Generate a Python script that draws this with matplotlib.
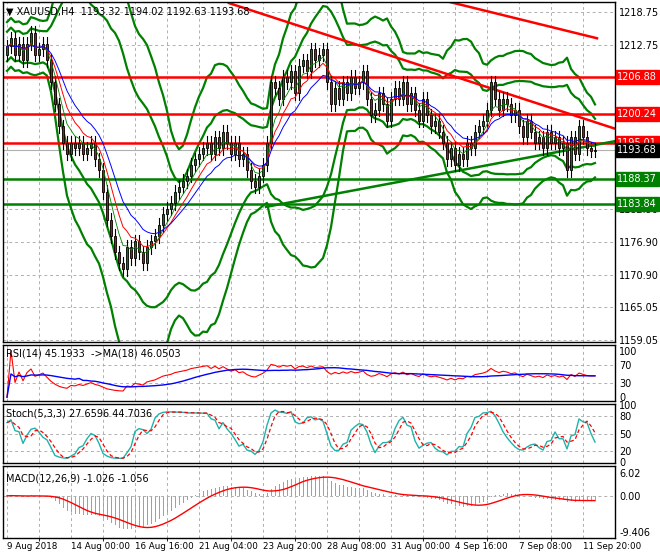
import numpy as np
import matplotlib
matplotlib.use("Agg")
import matplotlib.pyplot as plt

closes = [1212.5,1214,1211,1213,1210,1213,1215,1211,1212,1213,
          1210,1206,1202,1198,1195,1193,1195,1194,1195,1193,
          1194,1195,1192,1190,1186,1181,1178,1175,1173,1172,
          1176,1174,1177,1175,1173,1176,1177,1178,1180,1182,
          1183,1184,1186,1187,1188,1189,1191,1192,1193,1194,
          1195,1193,1196,1194,1197,1195,1193,1195,1192,1193,
          1190,1188,1187,1189,1191,1195,1206,1205,1203,1207,
          1206,1208,1204,1209,1210,1208,1212,1210,1211,1212,
          1206,1202,1205,1203,1206,1204,1207,1205,1206,1208,
          1203,1200,1201,1204,1202,1199,1203,1205,1203,1206,
          1202,1204,1201,1199,1203,1200,1198,1199,1197,1195,
          1192,1194,1191,1193,1192,1195,1194,1197,1198,1199,
          1201,1206,1203,1201,1203,1202,1200,1201,1198,1196,
          1199,1197,1195,1196,1194,1197,1195,1196,1194,1195,
          1190,1196,1193,1198,1196,1194,1193.5,1193.68]
first_open = 1211.0
red_levels = [1206.88, 1200.24, 1195.01]
green_levels = [1188.37, 1183.84]
last_price = 1193.68
price_ticks = [1218.75, 1212.75, 1182.90, 1176.90, 1170.90, 1165.05, 1159.05]
red_trend = ([55.5, 153], [1220.4, 1197.3])
red_trend2 = ([109, 147.5], [1220.9, 1214.0])
green_trend = ([64.75, 153], [1183.3, 1195.4])
xlabels = ["9 Aug 2018", "14 Aug 00:00", "16 Aug 16:00", "21 Aug 04:00", "23 Aug 20:00",
           "28 Aug 08:00", "31 Aug 00:00", "4 Sep 16:00", "7 Sep 08:00", "11 Sep 20:00"]
xlabel_bars = [0, 16, 32, 48, 64, 80, 96, 112, 128, 144]
title = "XAUUSD,H4  1193.32 1194.02 1192.63 1193.68"
rsi_text = "RSI(14) 45.1933  ->MA(18) 46.0503"
stoch_text = "Stoch(5,3,3) 27.6596 44.7036"
macd_text = "MACD(12,26,9) -1.026 -1.056"

c = np.array(closes, float)
n = len(c)
o = np.concatenate([[first_open], c[:-1]])
hi = np.maximum(o, c) + 1.2
lo = np.minimum(o, c) - 1.2
x = np.arange(n)

def ema(a, p):
    out = np.empty_like(a); k = 2/(p+1); out[0] = a[0]
    for i in range(1, len(a)): out[i] = a[i]*k + out[i-1]*(1-k)
    return out
def sma(a, p):
    return np.array([a[max(0, i-p+1):i+1].mean() for i in range(len(a))])
def std(a, p):
    return np.array([a[max(0, i-p+1):i+1].std() for i in range(len(a))])

mid = sma(c, 20); sd = std(c, 20)
sd[:5] = sd[5]
d = np.diff(c, prepend=c[0])
g = np.where(d > 0, d, 0); l = np.where(d < 0, -d, 0)
ag = ema(g, 27); al = ema(l, 27)
rsi = 100 - 100/(1 + ag/np.maximum(al, 1e-9))
rsi_ma = sma(rsi, 18)
hh = np.array([hi[max(0, i-4):i+1].max() for i in range(n)])
ll = np.array([lo[max(0, i-4):i+1].min() for i in range(n)])
k = 100*sma(c-ll, 3)/np.maximum(sma(hh-ll, 3), 1e-9)
dline = sma(k, 3)
macd = ema(c, 12) - ema(c, 26)
sig = sma(macd, 9)

W, H = 660, 560
fig = plt.figure(figsize=(6.6, 5.6), dpi=100)
L, R = 3/W, 615/W
def axes(top, bot):
    return fig.add_axes([L, 1-bot/H, R-L, (bot-top)/H])
ax = axes(2, 342); ar = axes(345, 401); ast = axes(404, 463); am = axes(466, 538)
FS = 7
GRID = dict(color="#b0b0b0", ls=(0, (3, 3)), lw=0.7)
for a in (ax, ar, ast, am):
    a.set_xlim(-1, 152)
    a.set_xticks(list(range(0, 152, 8)))
    a.grid(True, **GRID)
    a.tick_params(length=0, labelbottom=False, labelleft=False, labelright=True, labelsize=FS, pad=3)
    a.yaxis.tick_right()
    for s in a.spines.values(): s.set_color("black"); s.set_linewidth(1)

ax.set_ylim(1158.7, 1220.6)
ax.set_yticks(price_ticks)
ax.set_yticklabels([f"{t:.2f}" for t in price_ticks])
for i in range(n):
    ax.plot([x[i], x[i]], [lo[i], hi[i]], color="black", lw=0.8, zorder=3)
    col = "#008000" if c[i] >= o[i] else "#e00000"
    b0, b1 = min(o[i], c[i]), max(o[i], c[i])
    ax.bar(x[i], max(b1-b0, 0.15), bottom=b0, width=0.72, color=col, edgecolor="black", lw=0.6, zorder=4)
ax.plot(x, ema(c, 5), color="#008000", lw=0.6, zorder=5)
ax.plot(x, ema(c, 8), color="red", lw=0.7, zorder=5)
ax.plot(x, ema(c, 13), color="blue", lw=0.7, zorder=5)
for dev in (2.0, 3.3):
    ax.plot(x, mid+dev*sd, color="#008000", lw=1.6, zorder=2)
    ax.plot(x, mid-dev*sd, color="#008000", lw=1.6, zorder=2)
for lv in red_levels:
    ax.axhline(lv, color="red", lw=1.8, zorder=2)
for lv in green_levels:
    ax.axhline(lv, color="#008000", lw=1.8, zorder=2)
ax.axhline(last_price, color="#b0b0b0", lw=0.8, zorder=1)
ax.plot(*red_trend, color="red", lw=1.8, zorder=2)
ax.plot(*red_trend2, color="red", lw=1.8, zorder=2)
ax.plot(*green_trend, color="#008000", lw=1.8, zorder=2)
def box(lv, fc):
    ax.text(1.004, lv, f"{lv:.2f}", transform=ax.get_yaxis_transform(), va="center", ha="left",
            fontsize=FS, color="white", bbox=dict(boxstyle="square,pad=0.2", fc=fc, ec=fc), clip_on=False, zorder=10)
for lv in red_levels: box(lv, "red")
for lv in green_levels: box(lv, "#008000")
box(last_price, "black")
ax.text(0.005, 0.985, "\u25bc " + title, transform=ax.transAxes, fontsize=FS, va="top", ha="left", zorder=10)

ar.set_ylim(-8, 112)
ar.set_yticks([0, 30, 70, 100]); ar.grid(False); ar.grid(True, axis="x", **GRID)
for lv in (30, 70): ar.axhline(lv, **GRID)
ar.plot(x, rsi, color="red", lw=0.8)
ar.plot(x, rsi_ma, color="blue", lw=1.0)
ar.text(0.005, 0.93, rsi_text, transform=ar.transAxes, fontsize=FS, va="top")

ast.set_ylim(-2, 102)
ast.set_yticks([0, 20, 50, 80, 100]); ast.grid(False); ast.grid(True, axis="x", **GRID)
for lv in (20, 50, 80): ast.axhline(lv, **GRID)
ast.plot(x, k, color="#20b2aa", lw=1.0)
ast.plot(x, dline, color="red", lw=0.9, ls=(0, (3, 2)))
ast.text(0.005, 0.93, stoch_text, transform=ast.transAxes, fontsize=FS, va="top")

am.set_ylim(-11.0, 7.8)
am.set_yticks([-9.406, 0.0, 6.02]); am.set_yticklabels(["-9.406", "0.00", "6.02"])
am.grid(False); am.grid(True, axis="x", **GRID)
am.axhline(0, **GRID)
am.bar(x, macd, width=0.25, color="#a0a0a0")
am.plot(x, sig, color="red", lw=1.0)
am.text(0.005, 0.9, macd_text, transform=am.transAxes, fontsize=FS, va="top")
am.set_xticks(xlabel_bars)
am.set_xticklabels(xlabels, ha="left")
am.tick_params(axis="x", labelbottom=True, labelsize=6.3, pad=3)
am.set_xticks(list(range(0, 152, 8)), minor=True)
am.grid(True, which="minor", axis="x", **GRID)

fig.savefig("out.png", dpi=100, facecolor="white")
